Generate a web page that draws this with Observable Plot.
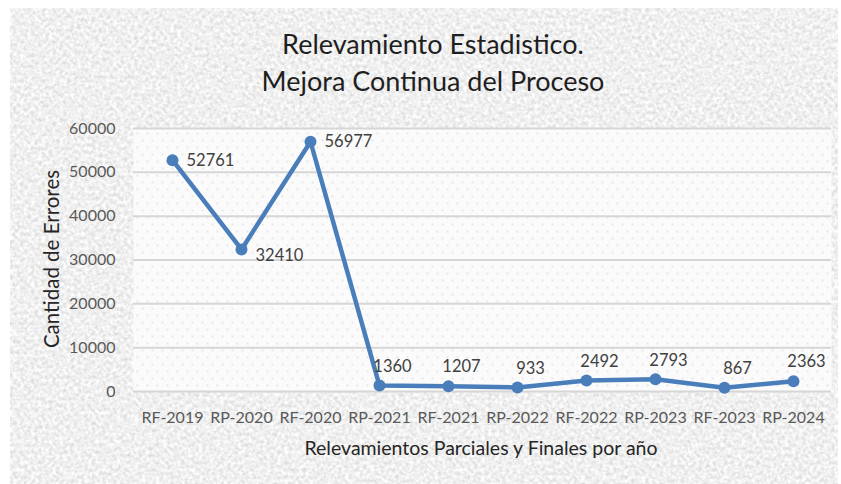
<!DOCTYPE html>
<html>
<head>
<meta charset="utf-8">
<script src="https://cdn.jsdelivr.net/npm/d3@7"></script>
<script src="https://cdn.jsdelivr.net/npm/@observablehq/plot@0.6"></script>
<style>
  html, body { margin: 0; padding: 0; background: #ffffff; }
  #wrap { position: relative; width: 841px; height: 484px; overflow: hidden; background: #fff; font-family: Lato, "Open Sans", sans-serif; }
  #bg { position: absolute; left: 10px; top: 8px; width: 828px; height: 476px; }
  #title { position: absolute; left: 0; top: 25px; width: 866px; text-align: center; font-size: 27px; line-height: 37px; color: #1f1f1f; }
  #xlabel { position: absolute; left: 0; width: 962px; top: 436px; text-align: center; font-size: 19.5px; color: #262626; }
  #ylabel { position: absolute; left: 51px; top: 259px; width: 300px; margin-left: -150px; margin-top: -13px; text-align: center; font-size: 20.5px; line-height: 26px; color: #262626; transform: rotate(-90deg); }
  #chart { position: absolute; left: 0; top: 110px; }
</style>
</head>
<body>
<div id="wrap">
  <svg id="bg" width="828" height="476">
    <defs>
      <filter id="tex" x="0" y="0" width="100%" height="100%">
        <feTurbulence type="fractalNoise" baseFrequency="0.28" numOctaves="3" seed="7"/>
        <feColorMatrix type="matrix" values="0.5 0 0 0 0.62  0.5 0 0 0 0.62  0.5 0 0 0 0.62  0 0 0 0 1"/>
      </filter>
    </defs>
    <rect width="828" height="476" fill="#d8d8d8" filter="url(#tex)"/>
  </svg>
  <div id="title">Relevamiento Estadistico.<br>Mejora Continua del Proceso</div>
  <div id="ylabel">Cantidad de Errores</div>
  <div id="xlabel">Relevamientos Parciales y Finales por año</div>
  <div id="chart"></div>
</div>
<script>
const categories = ["RF-2019","RP-2020","RF-2020","RP-2021","RF-2021","RP-2022","RF-2022","RP-2023","RF-2023","RP-2024"];
const values = [52761, 32410, 56977, 1360, 1207, 933, 2492, 2793, 867, 2363];
const yTicks = [0, 10000, 20000, 30000, 40000, 50000, 60000];

const data = categories.map((c, i) => ({cat: c, val: values[i], i}));
const rightLabels = data.filter(d => d.i === 0 || d.i === 2);
const lowLabels = data.filter(d => d.i === 1);
const topLabels = data.filter(d => d.i >= 3);

const blue = "#4a7ebb";
const chart = Plot.plot({
  width: 841,
  height: 360,
  marginLeft: 133,
  marginRight: 10,
  marginTop: 18,
  marginBottom: 79,
  style: {fontFamily: "Lato, 'Open Sans', sans-serif", fontSize: "16px", background: "transparent"},
  x: {type: "point", domain: categories, padding: 0.5},
  y: {domain: [0, 60000]},
  marks: [
    Plot.frame({fill: "#fbfbfb", stroke: null}),
    Plot.frame({fill: "url(#dots)", stroke: null}),
    Plot.ruleY(yTicks, {stroke: "#d6d6d6", strokeWidth: 2}),
    Plot.axisY({ticks: yTicks, tickFormat: d3.format("d"), tickSize: 0, tickPadding: 18, label: null, fill: "#595959"}),
    Plot.axisX({tickSize: 0, tickPadding: 20, label: null, fill: "#595959"}),
    Plot.line(data, {x: "cat", y: "val", stroke: blue, strokeWidth: 4.5, strokeLinejoin: "round"}),
    Plot.dot(data, {x: "cat", y: "val", r: 6, fill: blue, stroke: null}),
    Plot.text(rightLabels, {x: "cat", y: "val", text: d => String(d.val), textAnchor: "start", dx: 14, fill: "#404040", fontSize: 16.5}),
    Plot.text(lowLabels, {x: "cat", y: "val", text: d => String(d.val), textAnchor: "start", dx: 14, dy: 6, fill: "#404040", fontSize: 16.5}),
    Plot.text(topLabels, {x: "cat", y: "val", text: d => String(d.val), textAnchor: "middle", dx: 13, dy: -19, fill: "#404040", fontSize: 16.5})
  ]
});

// dotted pattern for the plot area
const ns = "http://www.w3.org/2000/svg";
const defs = document.createElementNS(ns, "defs");
defs.innerHTML = `<pattern id="dots" width="10" height="14" patternUnits="userSpaceOnUse">
  <circle cx="2" cy="2" r="0.7" fill="#c4c4c4"/>
  <circle cx="7" cy="9" r="0.7" fill="#c4c4c4"/>
</pattern>`;
chart.insertBefore(defs, chart.firstChild);
document.getElementById("chart").appendChild(chart);
</script>
</body>
</html>
